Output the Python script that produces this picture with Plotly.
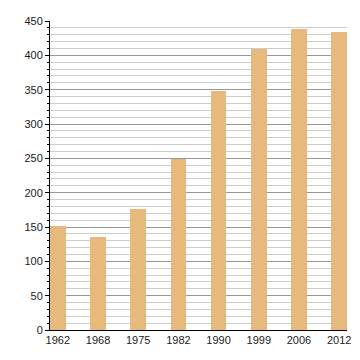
import plotly.graph_objects as go

years = ["1962", "1968", "1975", "1982", "1990", "1999", "2006", "2012"]
population = [151, 135, 176, 249, 348, 409, 438, 434]

fig = go.Figure(go.Bar(
    x=years, y=population,
    marker=dict(color="#e8b97d", line=dict(width=0)),
    width=0.39,
))

fig.update_layout(
    width=360, height=360,
    margin=dict(l=50, r=9, t=21, b=30),
    paper_bgcolor="white", plot_bgcolor="white",
    font=dict(family="Liberation Sans, Arial, sans-serif", size=11, color="#222"),
    showlegend=False,
    bargap=0,
)
fig.update_xaxes(
    type="category", range=[-0.195, 7.195],
    showline=True, linecolor="black", linewidth=1,
    ticks="", showgrid=False, ticklabelstandoff=0,
)
fig.update_yaxes(
    range=[0, 450], dtick=50, tick0=0,
    showline=True, linecolor="black", linewidth=1,
    ticks="outside", ticklen=4, tickcolor="black",
    showgrid=True, gridcolor="#999999", gridwidth=1,
    zeroline=False,
    minor=dict(dtick=10, showgrid=True, gridcolor="#cccccc", gridwidth=1,
               ticks="outside", ticklen=2, tickcolor="black"),
)

fig.write_html("out.html",
               config={"displayModeBar": False, "staticPlot": True},
               post_script="document.body.style.margin='0';document.body.style.overflow='hidden';")
